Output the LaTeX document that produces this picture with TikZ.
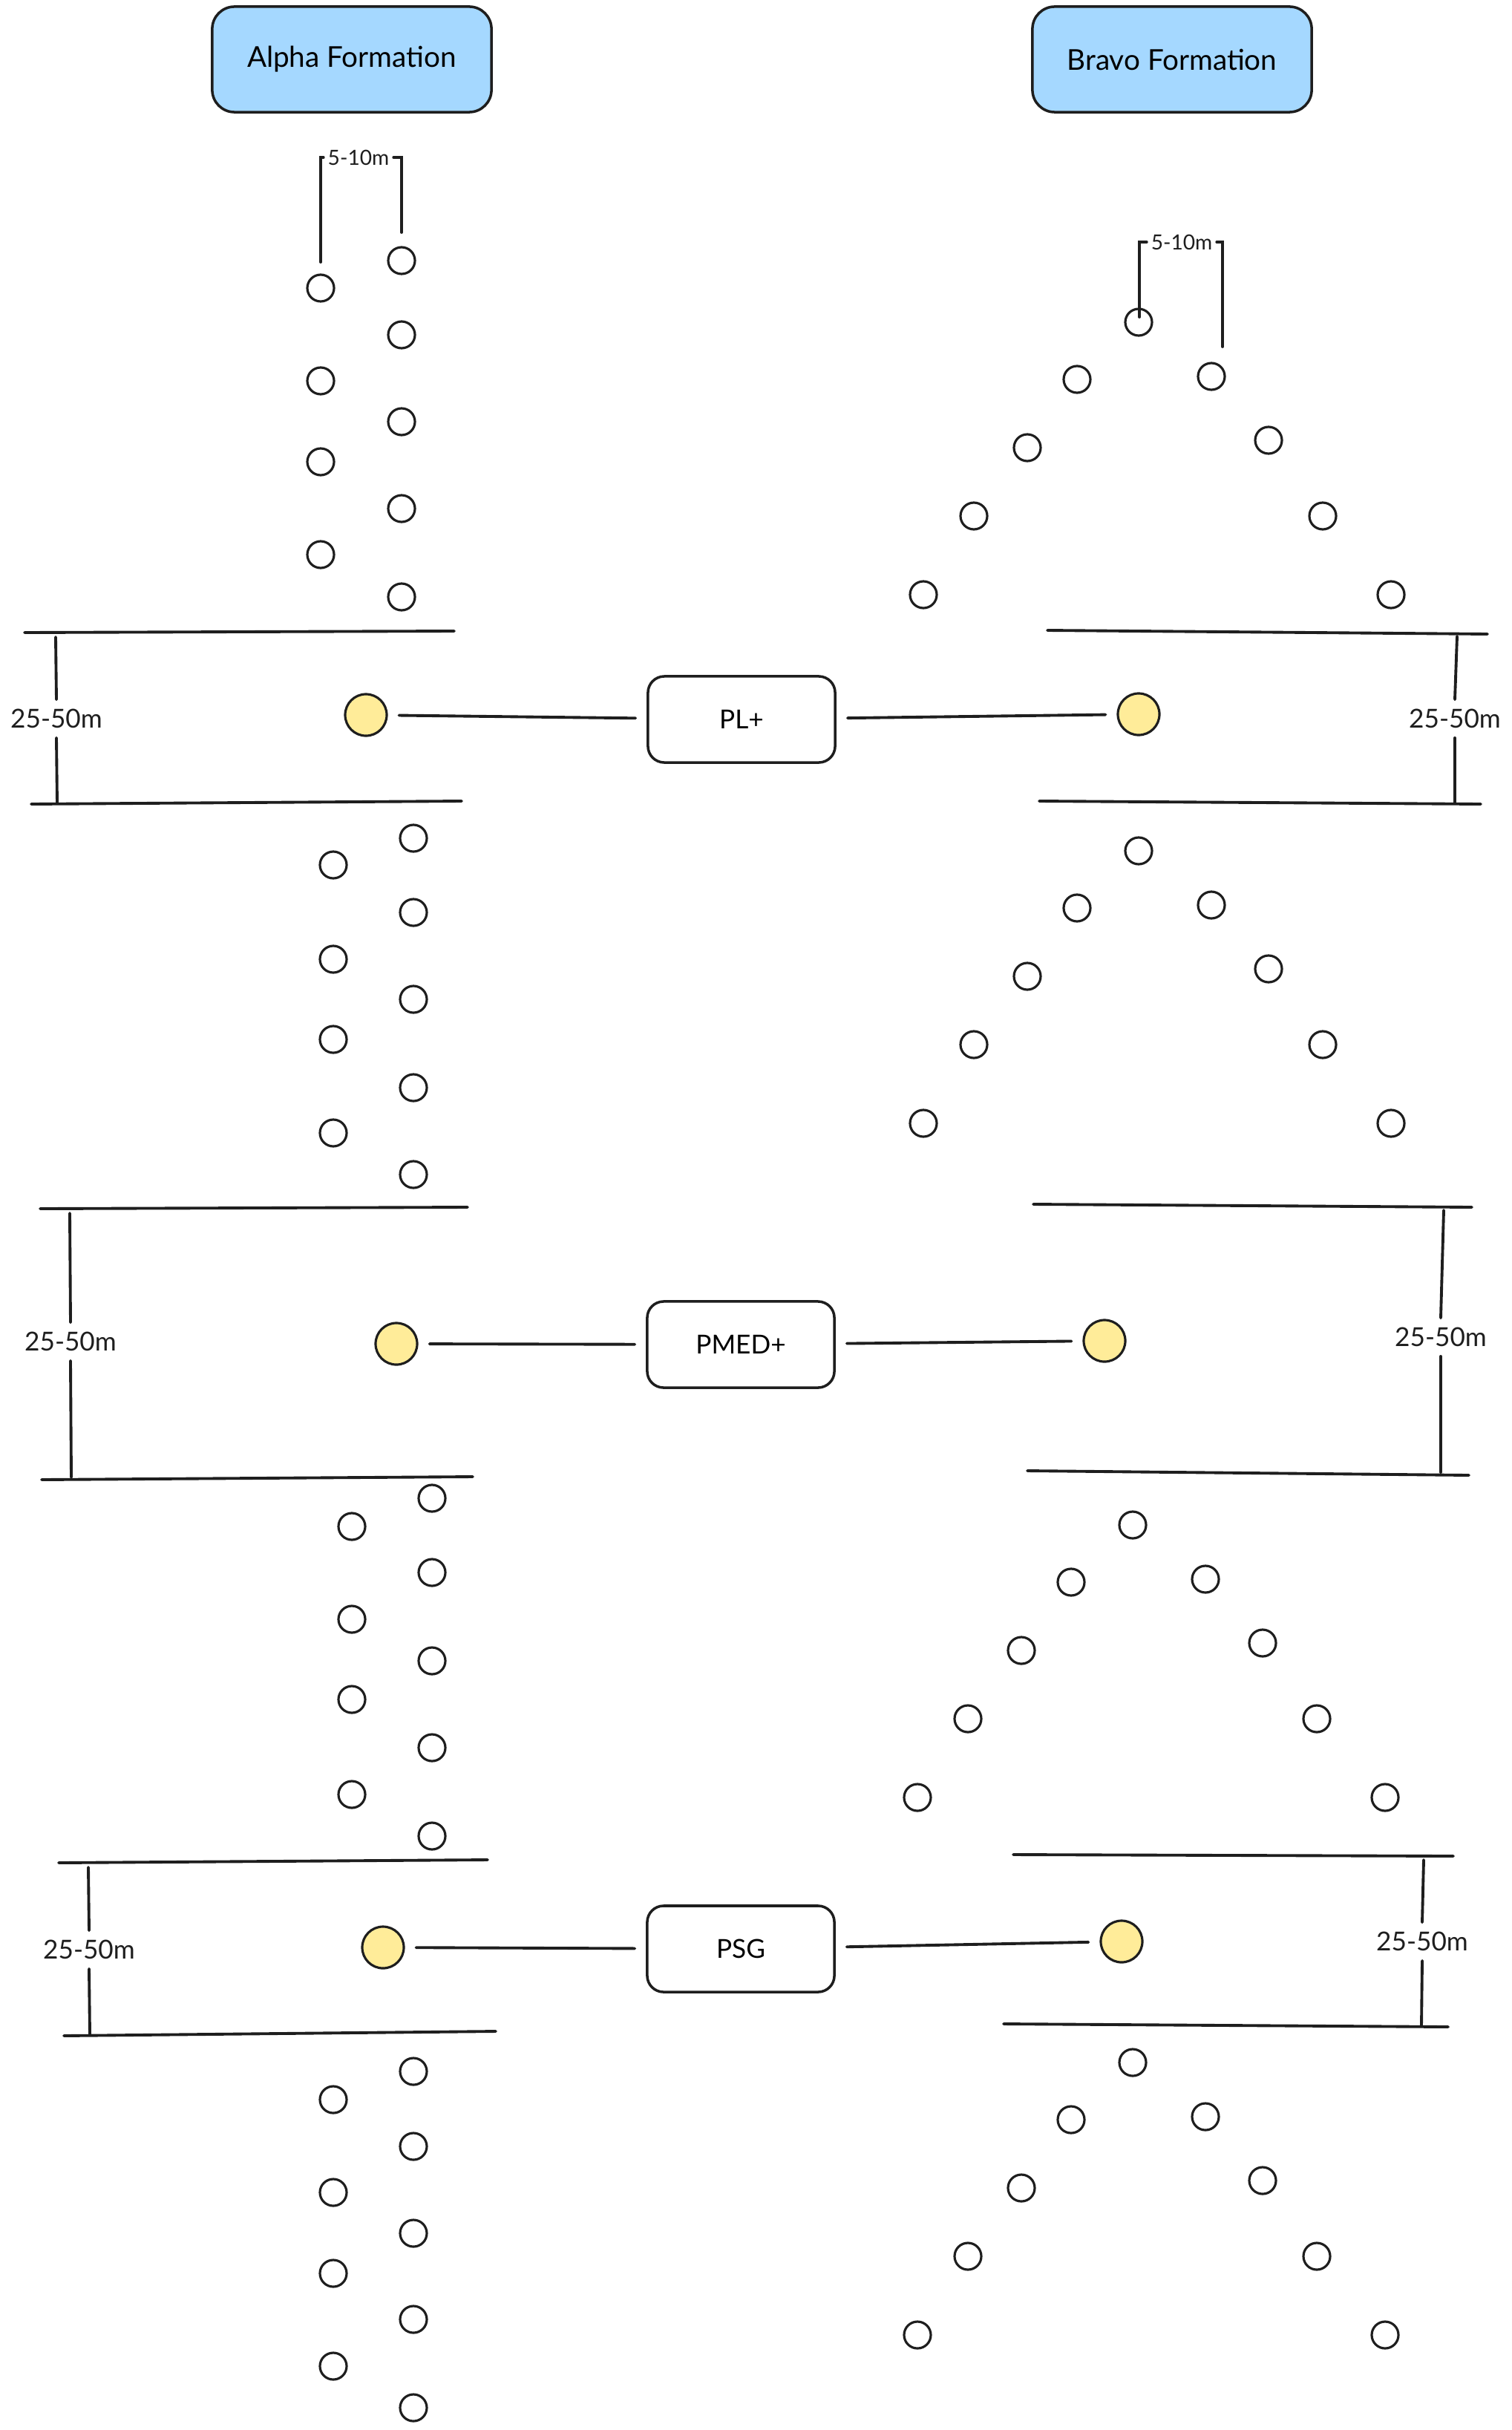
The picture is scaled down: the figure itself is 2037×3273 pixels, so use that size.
\documentclass[tikz,border=0pt]{standalone}
\usepackage{fontspec}
\setmainfont{Lato}
\definecolor{ink}{HTML}{1E1E1E}
\definecolor{skyfill}{HTML}{A5D8FF}
\definecolor{sunfill}{HTML}{FFEC99}
\begin{document}
\begin{tikzpicture}[x=0.01cm,y=-0.01cm,
  ln/.style={draw=ink, line width=1.1pt, line cap=round},
  dot/.style={circle, draw=ink, line width=0.9pt, minimum size=0.36cm, inner sep=0pt},
  ydot/.style={circle, draw=ink, fill=sunfill, line width=0.9pt, minimum size=0.56cm, inner sep=0pt},
  titlebox/.style={rectangle, rounded corners=0.3cm, draw=ink, fill=skyfill, line width=1pt, minimum width=3.76cm, minimum height=1.42cm, font=\fontsize{11}{13}\selectfont},
  rolebox/.style={rectangle, rounded corners=0.22cm, draw=ink, line width=1pt, minimum width=2.52cm, minimum height=1.16cm, font=\fontsize{10}{12}\selectfont},
  dim/.style={font=\fontsize{10}{12}\selectfont, inner xsep=1pt, inner ysep=3.5pt, text=ink},
  sdim/.style={font=\fontsize{8}{10}\selectfont, inner xsep=1.5pt, inner ysep=1pt, text=ink},
  link/.style={ln, shorten <=0.15cm, shorten >=0.15cm},
]
\useasboundingbox (0,0) rectangle (2037,3273);

% titles
\node[titlebox] (alpha) at (474,80) {Alpha Formation};
\node[titlebox] (bravo) at (1579,80) {Bravo Formation};

% Alpha groups (two columns)
\foreach \g/\lx/\rx/\la/\lb/\lc/\ld/\ra/\rb/\rc/\rd/\re in {
  1/432/541/388/513/622/747/351/451/568/685/804,
  2/449/557/1165/1292/1400/1526/1129/1229/1346/1465/1582,
  3/474/582/2056/2181/2289/2417/2018/2118/2237/2354/2473,
  4/449/557/2828/2953/3062/3187/2790/2891/3008/3124/3243}{
  \node[dot] (al\g-1) at (\lx,\la) {};
  \node[dot] (al\g-2) at (\lx,\lb) {};
  \node[dot] (al\g-3) at (\lx,\lc) {};
  \node[dot] (al\g-4) at (\lx,\ld) {};
  \node[dot] (ar\g-1) at (\rx,\ra) {};
  \node[dot] (ar\g-2) at (\rx,\rb) {};
  \node[dot] (ar\g-3) at (\rx,\rc) {};
  \node[dot] (ar\g-4) at (\rx,\rd) {};
  \node[dot] (ar\g-5) at (\rx,\re) {};
}

% Bravo groups (V shape)
\foreach \g/\ax/\ay/\dy in {1/1534/434/0, 2/1534/1146/712, 3/1526/2054/1620, 4/1526/2778/2344}{
  \node[dot] (bv\g-0) at (\ax,\ay) {};
  \foreach \dx/\yy [count=\i] in {-83/511,-150/603,-222/695,-290/801}{
    \node[dot] (bl\g-\i) at ({\ax+\dx},{\yy+\dy}) {};
  }
  \foreach \dx/\yy [count=\i] in {98/507,175/593,248/695,340/801}{
    \node[dot] (br\g-\i) at ({\ax+\dx},{\yy+\dy}) {};
  }
}

% 5-10m brackets
\node[sdim] (sa) at (483,212) {5-10m};
\coordinate (saL) at (432,353);
\coordinate (saR) at (541,313);
\draw[ln] (sa.west) -| (saL);
\draw[ln] (sa.east) -| (saR);

\node[sdim] (sb) at (1592,326) {5-10m};
\coordinate (sbL) at (1535,427);
\coordinate (sbR) at (1647,467);
\draw[ln] (sb.west) -| (sbL);
\draw[ln] (sb.east) -| (sbR);

% ---- Band 1: PL+ ----
\draw[ln] (33,852) -- (612,850);
\draw[ln] (42,1083) -- (622,1079);
\node[dim] (da1) at (76,968) {25-50m};
\coordinate (da1t) at (75,858); \coordinate (da1b) at (77,1082);
\draw[ln] (da1t) -- (da1.north); \draw[ln] (da1.south) -- (da1b);

\draw[ln] (1411,849) -- (2004,854);
\draw[ln] (1400,1079) -- (1995,1083);
\node[dim] (db1) at (1960,968) {25-50m};
\coordinate (db1t) at (1963,857); \coordinate (db1b) at (1960,1082);
\draw[ln] (db1t) -- (db1.north); \draw[ln] (db1.south) -- (db1b);

\node[ydot] (ya1) at (493,963) {};
\node[rolebox] (pl) at (999,969) {PL+};
\node[ydot] (yb1) at (1534,962) {};
\draw[link] (ya1) -- (pl);
\draw[link] (pl) -- (yb1);

% ---- Band 2: PMED+ ----
\draw[ln] (54,1628) -- (630,1626);
\draw[ln] (56,1993) -- (637,1989);
\node[dim] (da2) at (95,1807) {25-50m};
\coordinate (da2t) at (94,1634); \coordinate (da2b) at (96,1990);
\draw[ln] (da2t) -- (da2.north); \draw[ln] (da2.south) -- (da2b);

\draw[ln] (1392,1622) -- (1983,1626);
\draw[ln] (1384,1981) -- (1979,1987);
\node[dim] (db2) at (1941,1801) {25-50m};
\coordinate (db2t) at (1945,1630); \coordinate (db2b) at (1941,1983);
\draw[ln] (db2t) -- (db2.north); \draw[ln] (db2.south) -- (db2b);

\node[ydot] (ya2) at (534,1810) {};
\node[rolebox] (pmed) at (998,1811) {PMED+};
\node[ydot] (yb2) at (1488,1806) {};
\draw[link] (ya2) -- (pmed);
\draw[link] (pmed) -- (yb2);

% ---- Band 3: PSG ----
\draw[ln] (79,2509) -- (657,2505);
\draw[ln] (86,2742) -- (668,2736);
\node[dim] (da3) at (120,2626) {25-50m};
\coordinate (da3t) at (119,2515); \coordinate (da3b) at (121,2740);
\draw[ln] (da3t) -- (da3.north); \draw[ln] (da3.south) -- (da3b);

\draw[ln] (1365,2498) -- (1958,2500);
\draw[ln] (1352,2726) -- (1951,2730);
\node[dim] (db3) at (1916,2615) {25-50m};
\coordinate (db3t) at (1918,2505); \coordinate (db3b) at (1915,2728);
\draw[ln] (db3t) -- (db3.north); \draw[ln] (db3.south) -- (db3b);

\node[ydot] (ya3) at (516,2623) {};
\node[rolebox] (psg) at (998,2625) {PSG};
\node[ydot] (yb3) at (1511,2615) {};
\draw[link] (ya3) -- (psg);
\draw[link] (psg) -- (yb3);
\end{tikzpicture}
\end{document}
